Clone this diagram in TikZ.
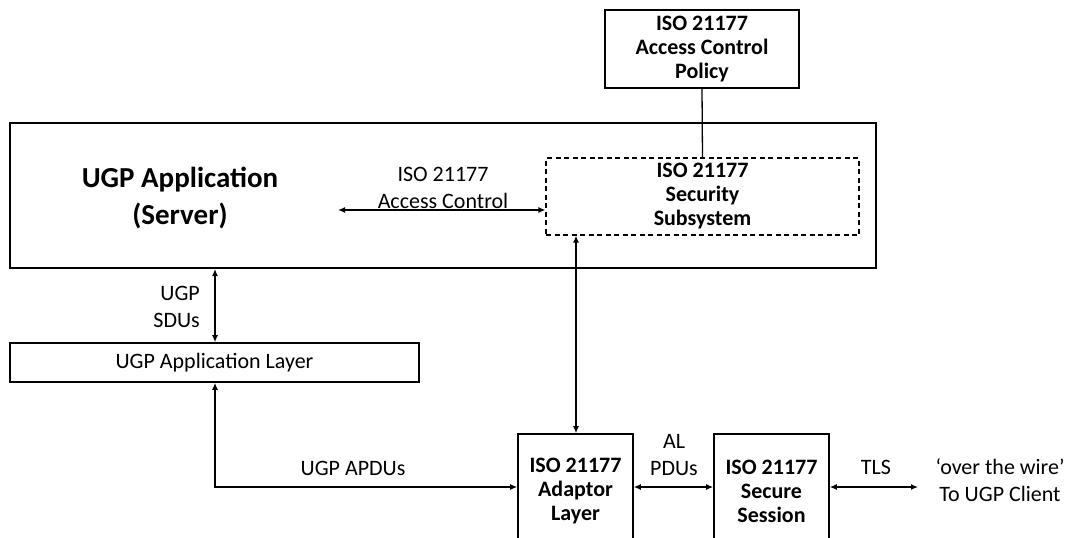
\documentclass[tikz,border=0pt]{standalone}
\usepackage{fontspec}
\setmainfont{Carlito}
\usetikzlibrary{arrows.meta}
\begin{document}
\begin{tikzpicture}[x=1pt,y=-1pt,
  box/.style={draw, line width=1.6pt, inner sep=0pt, align=center, font=\bfseries\fontsize{22}{24}\selectfont},
  plainbox/.style={draw, line width=1.6pt, inner sep=0pt, align=center, font=\fontsize{22}{27}\selectfont},
  lbl/.style={inner sep=0pt, align=center, font=\fontsize{22}{27}\selectfont},
  ttl/.style={inner sep=0pt, align=center, font=\bfseries\fontsize{29}{37}\selectfont},
  conn/.style={line width=1.3pt, {Latex[length=7pt,width=6pt]}-{Latex[length=7pt,width=6pt]}},
]
\useasboundingbox (0,0) rectangle (1071,538);

% boxes
\node[box, minimum width=194pt, minimum height=78pt] (policy) at (702,49) {ISO 21177\\Access Control\\Policy};
\node[draw, line width=2pt, inner sep=0pt, minimum width=866pt, minimum height=145pt] (main) at (443,195.5) {};
\node[ttl] (title) at (180,198) {UGP Application\\(Server)};
\node[box, line width=1.3pt, dash pattern=on 5pt off 3.5pt, minimum width=313pt, minimum height=77pt] (sec) at (702.5,196.5) {ISO 21177\\Security\\Subsystem};
\node[plainbox, minimum width=409pt, minimum height=39pt] (app) at (214.5,362.5) {UGP Application Layer};
\begin{scope}
\clip (0,0) rectangle (1071,538);
\node[box, minimum width=115pt, minimum height=114pt] (adp) at (575.5,491) {ISO 21177\\Adaptor\\Layer};
\node[box, minimum width=115pt, minimum height=114pt] (ses) at (771.5,491) {ISO 21177\\Secure\\Session};
\end{scope}

% helper coordinates
\coordinate (acl) at (338,210);
\coordinate (vx) at (576,0);
\coordinate (sx) at (215,0);
\coordinate (ar) at (0,487);
\coordinate (wire) at (918,487);

% connectors
\draw[line width=1.3pt] (policy.south) -- (sec.north);
\draw[conn] (acl) -- (sec.west |- acl);
\draw[conn] (sec.south -| vx) -- (adp.north -| vx);
\draw[conn] (main.south -| sx) -- (app.north -| sx);
\draw[conn] (app.south -| sx) |- (adp.west |- ar);
\draw[conn] (adp.east |- ar) -- (ses.west |- ar);
\draw[conn] (ses.east |- ar) -- (wire);

% labels
\node[lbl] (acL) at (443,188) {ISO 21177\\Access Control};
\node[lbl, align=right, anchor=east] (sdu) at (200,307) {UGP\\SDUs};
\node[lbl] (apdu) at (353,468) {UGP APDUs};
\node[lbl] (alp) at (674,455) {AL\\PDUs};
\node[lbl] (tls) at (876,467) {TLS};
\node[lbl] (otw) at (1000,480) {‘over the wire’\\To UGP Client};
\end{tikzpicture}
\end{document}
